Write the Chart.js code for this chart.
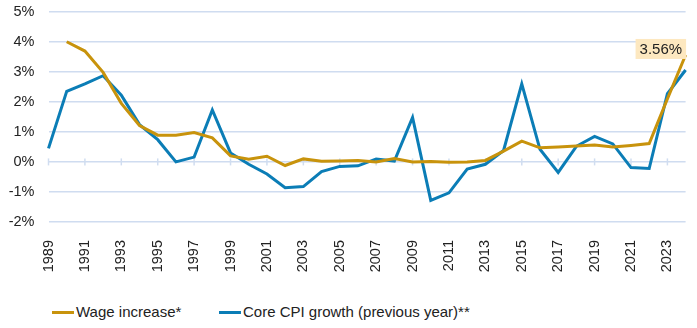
<!DOCTYPE html>
<html>
<head>
<meta charset="utf-8">
<script src="https://cdn.jsdelivr.net/npm/chart.js@4"></script>
<style>
    body { margin: 0; background: #fff; font-family: "Liberation Sans", Arial, sans-serif; }
    .wrap { position: relative; width: 697px; height: 328px; overflow: hidden; }
    /* canvas is a bit bigger than the page so the plot area lands where the reference has it */
    .chart-box { position: absolute; left: 0; top: -11px; width: 713px; height: 291px; }
    .legend { position: absolute; top: 302px; left: 0; width: 697px; height: 20px; font-size: 15px; color: #222; }
    .legend .item { position: absolute; top: 0; line-height: 20px; white-space: nowrap; }
    .legend .swatch { display: inline-block; width: 22px; height: 3px; vertical-align: middle; margin-right: 2px; position: relative; top: -1px; }
</style>
</head>
<body>
<div class="wrap">
    <div class="chart-box"><canvas id="wageChart"></canvas></div>
    <div class="legend">
        <div class="item" style="left:52px"><span class="swatch" style="background:#c8930c"></span>Wage increase*</div>
        <div class="item" style="left:219px"><span class="swatch" style="background:#0b7db6"></span>Core CPI growth (previous year)**</div>
    </div>
</div>
<script>
const years = ['1989', '1990', '1991', '1992', '1993', '1994', '1995', '1996', '1997', '1998',
    '1999', '2000', '2001', '2002', '2003', '2004', '2005', '2006', '2007', '2008',
    '2009', '2010', '2011', '2012', '2013', '2014', '2015', '2016', '2017', '2018',
    '2019', '2020', '2021', '2022', '2023', '2024'];

const wageIncrease = [null, 4.0, 3.69, 2.98, 1.95, 1.21, 0.89, 0.89, 0.98, 0.80,
    0.20, 0.09, 0.19, -0.12, 0.10, 0.02, 0.03, 0.05, 0.00, 0.11,
    0.00, 0.01, -0.01, 0.00, 0.05, 0.36, 0.69, 0.47, 0.50, 0.53,
    0.56, 0.50, 0.55, 0.61, 2.10, 3.56];

const coreCpi = [0.45, 2.35, 2.60, 2.87, 2.22, 1.24, 0.74, 0.00, 0.16, 1.73,
    0.30, -0.08, -0.40, -0.86, -0.82, -0.32, -0.15, -0.13, 0.10, 0.03,
    1.48, -1.28, -1.03, -0.24, -0.08, 0.38, 2.60, 0.42, -0.35, 0.52,
    0.85, 0.60, -0.19, -0.22, 2.27, 3.06];

const lastLabel = '3.56%';

const fontFamily = '"Liberation Sans", Arial, sans-serif';

// small ticks on the 0% line, every second year
const zeroTicks = {
    id: 'zeroTicks',
    beforeDatasetsDraw(chart) {
        const { ctx, scales: { x, y } } = chart;
        const y0 = y.getPixelForValue(0);
        ctx.save();
        ctx.strokeStyle = '#d0ddf0';
        ctx.lineWidth = 1.5;
        years.forEach((yr, i) => {
            if (i % 2 !== 0) return;
            const px = x.getPixelForValue(i);
            ctx.beginPath();
            ctx.moveTo(px, y0 - 3.5);
            ctx.lineTo(px, y0 + 3.5);
            ctx.stroke();
        });
        ctx.restore();
    }
};

// value box for the last wage point
const lastValueBox = {
    id: 'lastValueBox',
    afterDatasetsDraw(chart) {
        const { ctx, chartArea, scales: { x, y } } = chart;
        const i = wageIncrease.length - 1;
        const px = Math.min(x.getPixelForValue(i), chartArea.right);
        const py = y.getPixelForValue(wageIncrease[i]);
        ctx.save();
        ctx.font = '15px ' + fontFamily;
        const w = ctx.measureText(lastLabel).width + 8;
        const h = 20;
        const right = px + 0.5;
        const top = py - 16;
        ctx.fillStyle = '#fde8c0';
        ctx.fillRect(right - w, top, w, h);
        ctx.fillStyle = '#222';
        ctx.textAlign = 'center';
        ctx.textBaseline = 'middle';
        ctx.fillText(lastLabel, right - w / 2, top + h / 2 + 1);
        ctx.restore();
    }
};

new Chart(document.getElementById('wageChart').getContext('2d'), {
    type: 'line',
    data: {
        labels: years,
        datasets: [
            { label: 'Wage increase*', data: wageIncrease, borderColor: '#c8930c', borderWidth: 3, pointRadius: 0, tension: 0, spanGaps: false },
            { label: 'Core CPI growth (previous year)**', data: coreCpi, borderColor: '#0b7db6', borderWidth: 3, pointRadius: 0, tension: 0 }
        ]
    },
    options: {
        responsive: true,
        maintainAspectRatio: false,
        animation: false,
        layout: { padding: 0 },
        plugins: {
            legend: { display: false },
            tooltip: { enabled: false }
        },
        scales: {
            x: {
                offset: false,
                grid: { display: false },
                border: { display: false },
                afterFit(scale) { scale.height = 58; },
                ticks: {
                    autoSkip: false,
                    minRotation: 90,
                    maxRotation: 90,
                    padding: 10,
                    color: '#222',
                    font: { family: fontFamily, size: 14.5 },
                    callback: (val, i) => (i % 2 === 0 ? years[i] : '')
                }
            },
            y: {
                min: -2,
                max: 5,
                grid: { color: '#cfdcf0', lineWidth: 1.5, drawTicks: false },
                border: { display: false },
                afterFit(scale) { scale.width = 48.5; },
                ticks: {
                    stepSize: 1,
                    padding: 14,
                    color: '#222',
                    font: { family: fontFamily, size: 14.5 },
                    callback: v => v + '%'
                }
            }
        }
    },
    plugins: [zeroTicks, lastValueBox]
});
</script>
</body>
</html>
